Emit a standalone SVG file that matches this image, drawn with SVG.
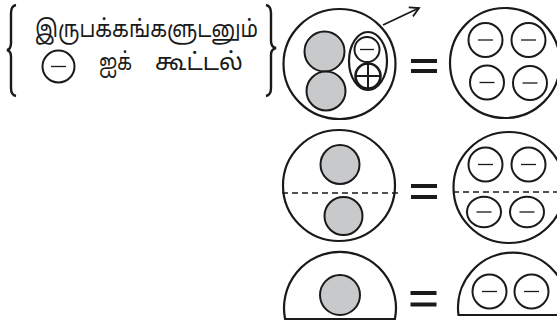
<svg xmlns="http://www.w3.org/2000/svg" width="557" height="322" viewBox="0 0 557 322">
<style>
.o{fill:none;stroke:#1a1a1a;stroke-width:2.2}
.g{fill:#c8c9cb;stroke:#1a1a1a;stroke-width:2}
.m{fill:#fff;stroke:#1a1a1a;stroke-width:2}
.ml{stroke:#1a1a1a;stroke-width:1.3}
.d{stroke:#1a1a1a;stroke-width:1.6;stroke-dasharray:6 4;fill:none}
.eq{fill:#1a1a1a}
.t{font-family:"Noto Sans Tamil","Lohit Tamil","Latha","Noto Sans",sans-serif;font-size:24px;fill:#1a1a1a}
</style>
<defs>
<marker id="ah" markerWidth="12" markerHeight="12" refX="10" refY="6" orient="auto" markerUnits="userSpaceOnUse">
<path d="M1,1 L10,6 L1,11" fill="none" stroke="#1a1a1a" stroke-width="1.8"/>
</marker>
<g id="mc"><circle r="17" class="m"/><line x1="-7.5" y1="0" x2="7.5" y2="0" class="ml"/></g>
</defs>

<g id="legend">
<path d="M16,5 Q11,6 11,13 L11,43 Q11,49 7,50 Q11,51 11,57 L11,88 Q11,95 16,96" fill="none" stroke="#1a1a1a" stroke-width="2.4"/>
<path d="M266,5 Q271,6 271,13 L271,41 Q271,47 276,48 Q271,49 271,55 L271,88 Q271,95 266,96" fill="none" stroke="#1a1a1a" stroke-width="2.4"/>
<text class="t" x="35" y="37" textLength="223" lengthAdjust="spacingAndGlyphs">இருபக்கங்களுடனும்</text>
<circle cx="58.5" cy="66.5" r="16" class="m"/>
<line x1="51" y1="66.5" x2="66" y2="66.5" class="ml"/>
<text class="t" x="99" y="70" textLength="33" lengthAdjust="spacingAndGlyphs">ஐக்</text>
<text class="t" x="155" y="70" textLength="88" lengthAdjust="spacingAndGlyphs">கூட்டல்</text>
</g>

<g id="row1-left">
<ellipse cx="339.5" cy="64" rx="56" ry="55" class="o"/>
<circle cx="324.5" cy="51.5" r="20" class="g"/>
<circle cx="326" cy="91" r="19.5" class="g"/>
<ellipse cx="368" cy="61" rx="19" ry="29" class="o"/>
<circle cx="367" cy="49.5" r="12.5" class="m"/>
<line x1="360" y1="49.5" x2="374" y2="49.5" class="ml"/>
<circle cx="368" cy="76" r="12.5" fill="#fff" stroke="#1a1a1a" stroke-width="2.6"/>
<line x1="356" y1="76" x2="380" y2="76" stroke="#1a1a1a" stroke-width="2"/>
<line x1="368" y1="64" x2="368" y2="88" stroke="#1a1a1a" stroke-width="2"/>
</g>
<g id="row1-eq"><rect x="411" y="59" width="26" height="4" class="eq"/><rect x="411" y="69" width="26" height="4" class="eq"/></g>
<g id="row1-right">
<circle cx="505" cy="63" r="55" class="o"/>
<use href="#mc" x="485.5" y="40"/>
<use href="#mc" x="528.5" y="40"/>
<use href="#mc" x="487" y="82.5"/>
<use href="#mc" x="530" y="83"/>
</g>

<g id="row2-left">
<ellipse cx="339" cy="185.5" rx="56" ry="55.5" class="o"/>
<circle cx="340" cy="164.5" r="19.5" class="g"/>
<circle cx="343.5" cy="216" r="19" class="g"/>
<line x1="282" y1="193" x2="400" y2="193" class="d"/>
</g>
<g id="row2-eq"><rect x="411" y="184" width="26" height="4" class="eq"/><rect x="411" y="195" width="26" height="4" class="eq"/></g>
<g id="row2-right">
<circle cx="509" cy="187.5" r="55.5" class="o"/>
<use href="#mc" x="485.5" y="164.5"/>
<use href="#mc" x="528.5" y="164.5"/>
<g transform="translate(484,212) scale(1,0.9)"><circle r="17" class="m" vector-effect="non-scaling-stroke"/><line x1="-7.5" y1="0" x2="7.5" y2="0" class="ml" vector-effect="non-scaling-stroke"/></g>
<g transform="translate(527,212) scale(1,0.9)"><circle r="17" class="m" vector-effect="non-scaling-stroke"/><line x1="-7.5" y1="0" x2="7.5" y2="0" class="ml" vector-effect="non-scaling-stroke"/></g>
<line x1="453" y1="192" x2="557" y2="192" class="d"/>
</g>

<g id="row3-left">
<path d="M285.1,319 A56,56 0 1 1 394.9,319 Z" class="o"/>
<circle cx="340" cy="295" r="20" class="g"/>
</g>
<g id="row3-eq"><rect x="410.5" y="291" width="26" height="4" class="eq"/><rect x="410.5" y="302.5" width="26" height="4" class="eq"/></g>
<g id="row3-right">
<path d="M458.5,315 A55,55 0 1 1 567.5,315 Z" class="o"/>
<use href="#mc" x="489.5" y="291.5"/>
<use href="#mc" x="531.5" y="291.5"/>
</g>

<g id="connectors">
<line x1="383" y1="25" x2="419" y2="8" stroke="#1a1a1a" stroke-width="1.8" marker-end="url(#ah)"/>
</g>
</svg>
